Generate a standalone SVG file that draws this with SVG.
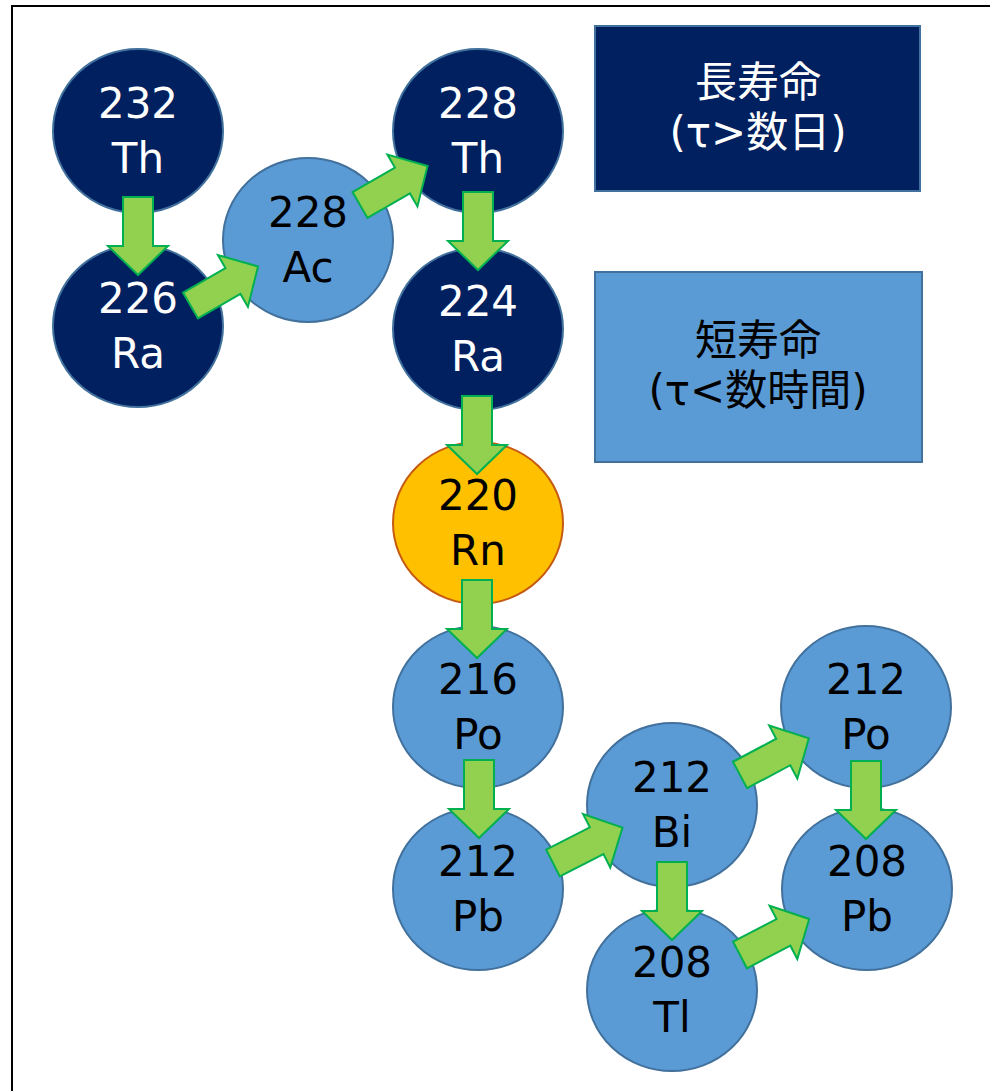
<svg xmlns="http://www.w3.org/2000/svg" width="990" height="1091" viewBox="0 0 990 1091">
<style>
.dark{fill:#002060;stroke:#41719C;stroke-width:2}
.light{fill:#5B9BD5;stroke:#41719C;stroke-width:2}
.rn{fill:#FFC000;stroke:#C55A11;stroke-width:2}
.t{font-family:"DejaVu Sans","Noto Sans CJK JP",sans-serif;font-size:42px;text-anchor:middle}
.w{fill:#FFFFFF}
.b{fill:#000000}
.arr{fill:#92D050;stroke:#00B050;stroke-width:2;stroke-linejoin:miter}
</style>
<defs>
<path id="arrow" d="M0,-15 L49,-15 L49,-30 L78,0 L49,30 L49,15 L0,15 Z"/>
</defs>
<rect x="12" y="6" width="1000" height="1100" fill="#FFFFFF" stroke="#000000" stroke-width="2"/>
<g id="legend-long">
<rect x="595" y="26" width="325" height="165" fill="#002060" stroke="#41719C" stroke-width="2"/>
<text class="t w" x="758" y="97">長寿命</text>
<text class="t w" x="758" y="147">(τ&gt;数日)</text>
</g>
<g id="legend-short">
<rect x="595" y="272" width="327" height="190" fill="#5B9BD5" stroke="#41719C" stroke-width="2"/>
<text class="t b" x="758" y="355">短寿命</text>
<text class="t b" x="758" y="405">(τ&lt;数時間)</text>
</g>
<g id="th232"><ellipse class="dark" cx="138" cy="131" rx="85" ry="82"/><text class="t w" x="138" y="118">232</text><text class="t w" x="138" y="173">Th</text></g>
<g id="ra226"><ellipse class="dark" cx="138" cy="326" rx="85" ry="81"/><text class="t w" x="138" y="313">226</text><text class="t w" x="138" y="368">Ra</text></g>
<g id="ac228"><ellipse class="light" cx="308" cy="240" rx="85" ry="82"/><text class="t b" x="308" y="227">228</text><text class="t b" x="308" y="282">Ac</text></g>
<g id="th228"><ellipse class="dark" cx="478" cy="131" rx="85" ry="82"/><text class="t w" x="478" y="118">228</text><text class="t w" x="478" y="173">Th</text></g>
<g id="ra224"><ellipse class="dark" cx="478" cy="329" rx="85" ry="81"/><text class="t w" x="478" y="316">224</text><text class="t w" x="478" y="371">Ra</text></g>
<g id="rn220"><ellipse class="rn" cx="478" cy="523" rx="85" ry="81"/><text class="t b" x="478" y="510">220</text><text class="t b" x="478" y="565">Rn</text></g>
<g id="po216"><ellipse class="light" cx="478" cy="707" rx="85" ry="81"/><text class="t b" x="478" y="694">216</text><text class="t b" x="478" y="749">Po</text></g>
<g id="pb212"><ellipse class="light" cx="478" cy="889" rx="85" ry="81"/><text class="t b" x="478" y="876">212</text><text class="t b" x="478" y="931">Pb</text></g>
<g id="bi212"><ellipse class="light" cx="672" cy="805" rx="85" ry="82"/><text class="t b" x="672" y="792">212</text><text class="t b" x="672" y="847">Bi</text></g>
<g id="tl208"><ellipse class="light" cx="672" cy="990" rx="85" ry="81"/><text class="t b" x="672" y="977">208</text><text class="t b" x="672" y="1032">Tl</text></g>
<g id="po212"><ellipse class="light" cx="866" cy="707" rx="85" ry="81"/><text class="t b" x="866" y="694">212</text><text class="t b" x="866" y="749">Po</text></g>
<g id="pb208"><ellipse class="light" cx="867" cy="889" rx="85" ry="81"/><text class="t b" x="867" y="876">208</text><text class="t b" x="867" y="931">Pb</text></g>
<g id="connectors">
<use href="#arrow" class="arr" transform="translate(138,197) rotate(90)"/>
<use href="#arrow" class="arr" transform="translate(190.5,305.5) rotate(-30)"/>
<use href="#arrow" class="arr" transform="translate(360,205) rotate(-30)"/>
<use href="#arrow" class="arr" transform="translate(478,192) rotate(90)"/>
<use href="#arrow" class="arr" transform="translate(477,396) rotate(90)"/>
<use href="#arrow" class="arr" transform="translate(477,580) rotate(90)"/>
<use href="#arrow" class="arr" transform="translate(479,760) rotate(90)"/>
<use href="#arrow" class="arr" transform="translate(553,863) rotate(-27)"/>
<use href="#arrow" class="arr" transform="translate(740,775) rotate(-28)"/>
<use href="#arrow" class="arr" transform="translate(672,862) rotate(90)"/>
<use href="#arrow" class="arr" transform="translate(740,955) rotate(-27.5)"/>
<use href="#arrow" class="arr" transform="translate(866,761) rotate(90)"/>
</g>
</svg>
